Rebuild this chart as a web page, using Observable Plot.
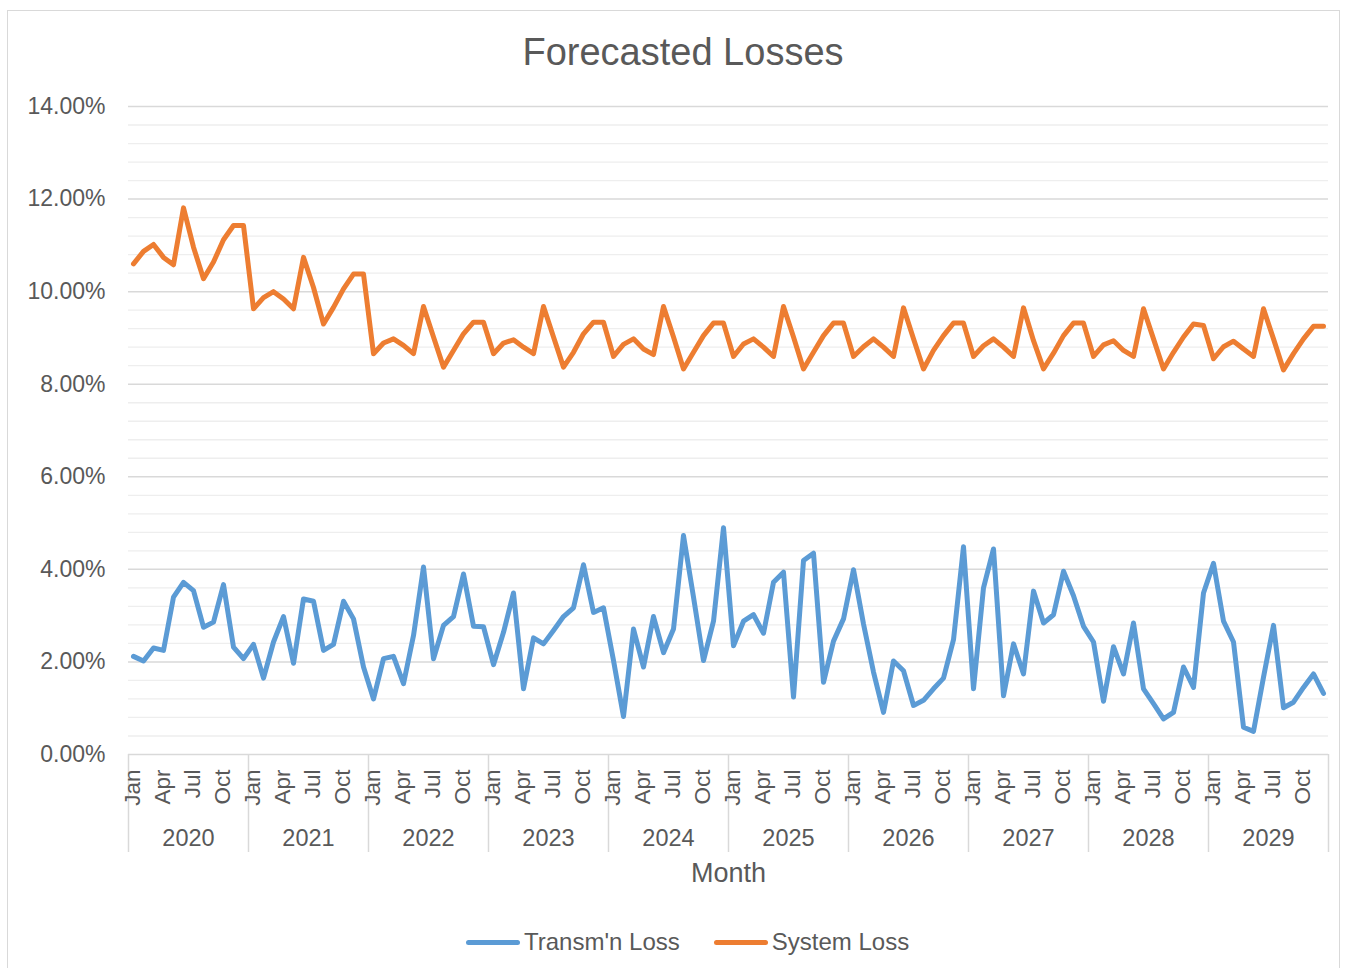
<!DOCTYPE html>
<html>
<head>
<meta charset="utf-8">
<script src="https://cdn.jsdelivr.net/npm/d3@7"></script>
<script src="https://cdn.jsdelivr.net/npm/@observablehq/plot@0.6"></script>
<style>
  html, body { margin: 0; padding: 0; background: #fff; }
  body { width: 1346px; height: 968px; position: relative; overflow: hidden;
         font-family: "Liberation Sans", Arial, sans-serif; color: #595959; }
  #frame { position: absolute; left: 7px; top: 10px; width: 1333px; height: 990px;
           border: 1px solid #d9d9d9; box-sizing: border-box; }
  #title { position: absolute; top: 31px; left: 683px; transform: translateX(-50%);
           font-size: 38px; line-height: 42px; white-space: nowrap; color: #595959; }
  #chart { position: absolute; left: 0; top: 80px; }
  #legend { position: absolute; top: 928px; left: 466px; display: flex; align-items: center;
            font-size: 24px; line-height: 28px; white-space: nowrap; color: #595959; }
  .sw { width: 54px; height: 5px; border-radius: 2.5px; margin-right: 4px; }
</style>
</head>
<body>
<div id="frame"></div>
<div id="title">Forecasted Losses</div>
<div id="chart"></div>
<div id="legend"></div>
<script>
// ---- data (percent) ----
const years = [2020, 2021, 2022, 2023, 2024, 2025, 2026, 2027, 2028, 2029];
const monthLabels = ["Jan", "Apr", "Jul", "Oct"];
const monthLabelOffsets = [0, 3, 6, 9];
const yTicks = [0, 2, 4, 6, 8, 10, 12, 14];
const minorStep = 0.4;
const seriesNames = ["Transm'n Loss", "System Loss"];
const seriesColors = ["#5B9BD5", "#ED7D31"];

const transmLoss = [
  2.12, 2.02, 2.30, 2.25, 3.40, 3.72, 3.54, 2.75, 2.86, 3.67, 2.32, 2.07,
  2.38, 1.65, 2.43, 2.98, 1.97, 3.36, 3.31, 2.25, 2.38, 3.31, 2.93, 1.89,
  1.20, 2.07, 2.12, 1.53, 2.57, 4.05, 2.07, 2.79, 2.98, 3.90, 2.77, 2.76,
  1.94, 2.64, 3.49, 1.42, 2.52, 2.39, 2.68, 2.98, 3.17, 4.10, 3.07, 3.17,
  2.03, 0.82, 2.71, 1.89, 2.98, 2.20, 2.71, 4.73, 3.40, 2.03, 2.88, 4.90,
  2.35, 2.88, 3.02, 2.62, 3.72, 3.94, 1.24, 4.19, 4.35, 1.56, 2.45, 2.93,
  3.99, 2.82, 1.78, 0.91, 2.02, 1.81, 1.06, 1.17, 1.42, 1.65, 2.48, 4.49,
  1.42, 3.60, 4.44, 1.27, 2.39, 1.74, 3.53, 2.84, 3.02, 3.96, 3.43, 2.77,
  2.43, 1.15, 2.33, 1.74, 2.84, 1.42, 1.10, 0.77, 0.91, 1.89, 1.45, 3.49,
  4.13, 2.88, 2.43, 0.59, 0.50, 1.67, 2.79, 1.01, 1.13, 1.45, 1.74, 1.32
];

const systemLoss = [
  10.60, 10.87, 11.02, 10.74, 10.58, 11.81, 10.96, 10.28, 10.64, 11.12, 11.43, 11.43,
  9.63, 9.87, 10.00, 9.84, 9.63, 10.74, 10.09, 9.30, 9.66, 10.06, 10.38, 10.38,
  8.66, 8.89, 8.98, 8.84, 8.66, 9.68, 9.02, 8.37, 8.73, 9.09, 9.34, 9.34,
  8.66, 8.89, 8.96, 8.80, 8.66, 9.68, 9.02, 8.37, 8.69, 9.09, 9.34, 9.34,
  8.60, 8.86, 8.98, 8.76, 8.64, 9.68, 9.02, 8.33, 8.69, 9.05, 9.32, 9.32,
  8.60, 8.87, 8.98, 8.80, 8.60, 9.68, 9.02, 8.33, 8.69, 9.05, 9.32, 9.32,
  8.60, 8.81, 8.98, 8.80, 8.60, 9.65, 8.98, 8.33, 8.73, 9.05, 9.32, 9.32,
  8.60, 8.83, 8.98, 8.80, 8.60, 9.65, 8.94, 8.33, 8.67, 9.05, 9.32, 9.32,
  8.60, 8.85, 8.94, 8.73, 8.60, 9.63, 8.98, 8.33, 8.69, 9.02, 9.30, 9.27,
  8.55, 8.81, 8.93, 8.76, 8.60, 9.63, 8.98, 8.31, 8.66, 8.98, 9.25, 9.25
];

// ---- derived tables ----
const nMonths = years.length * 12;
const rows = [];
[transmLoss, systemLoss].forEach((arr, s) => arr.forEach((v, i) => rows.push({ i, v, s: seriesNames[s] })));

const monthTicks = [];
years.forEach((y, k) => monthLabelOffsets.forEach((m, j) => monthTicks.push({ i: k * 12 + m, label: monthLabels[j] })));

const yearBounds = d3.range(years.length + 1).map(k => k * 12 - 0.5);
const yearCenters = years.map((y, k) => ({ x: k * 12 + 5.5, label: String(y) }));
const minorTicks = d3.range(0, 14 + 1e-9, minorStep).map(v => +v.toFixed(2)).filter(v => Math.abs(v / 2 - Math.round(v / 2)) > 1e-6);

const txt = "#595959";
const W = 1346, H = 820;
const mTop = 26, mBottom = 146, mLeft = 128, mRight = 18;
const pxPerUnit = (H - mTop - mBottom) / 14;
const sepDepth = -98 / pxPerUnit;

const chart = Plot.plot({
  width: W,
  height: H,
  marginTop: mTop,
  marginBottom: mBottom,
  marginLeft: mLeft,
  marginRight: mRight,
  style: { fontFamily: "'Liberation Sans', Arial, sans-serif", fontSize: "23px", color: txt, background: "transparent", overflow: "visible" },
  x: { domain: [-0.5, nMonths - 0.5], axis: null },
  y: { domain: [0, 14], axis: null },
  color: { domain: seriesNames, range: seriesColors },
  marks: [
    Plot.ruleY(minorTicks, { stroke: "#eeeeee", strokeWidth: 1.3 }),
    Plot.ruleY(yTicks, { stroke: "#d9d9d9", strokeWidth: 1.5 }),
    Plot.ruleX(yearBounds, { x: d => d, y1: 0, y2: sepDepth, stroke: "#d9d9d9", strokeWidth: 1.5 }),
    Plot.axisY({ ticks: yTicks, tickSize: 0, tickPadding: 23, fontSize: 23, fill: txt, tickFormat: d => d.toFixed(2) + "%", label: null }),
    Plot.text(monthTicks, { x: "i", text: "label", rotate: -90, textAnchor: "end", frameAnchor: "bottom", dx: 6, dy: 15, fontSize: 22.5, fill: txt }),
    Plot.text(yearCenters, { x: "x", text: "label", frameAnchor: "bottom", dy: 91, fontSize: 23.5, fill: txt }),
    Plot.text(["Month"], { frameAnchor: "bottom", dy: 127, fontSize: 27, fill: txt }),
    Plot.line(rows, { x: "i", y: "v", stroke: "s", z: "s", strokeWidth: 5, strokeLinejoin: "round", strokeLinecap: "round" })
  ]
});
document.getElementById("chart").appendChild(chart);

// legend
const legend = document.getElementById("legend");
seriesNames.forEach((name, k) => {
  const sw = document.createElement("div");
  sw.className = "sw";
  sw.style.background = seriesColors[k];
  const t = document.createElement("span");
  t.textContent = name;
  if (k > 0) sw.style.marginLeft = "34px";
  legend.appendChild(sw);
  legend.appendChild(t);
});
</script>
</body>
</html>
